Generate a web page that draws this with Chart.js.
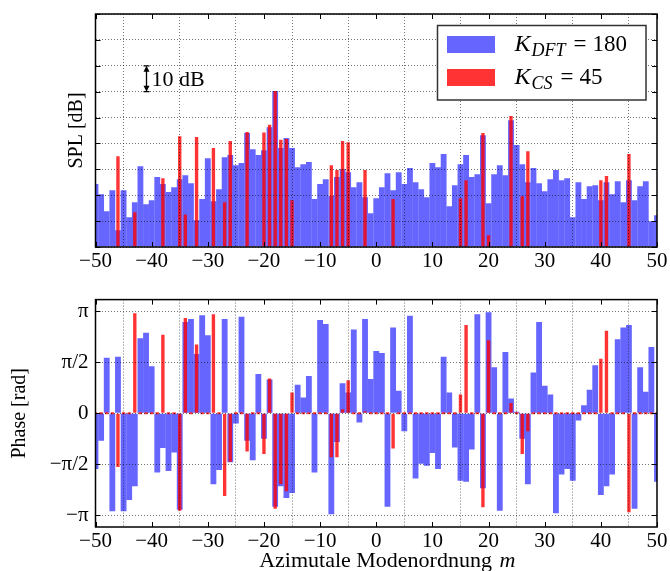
<!DOCTYPE html>
<html><head><meta charset="utf-8">
<script src="https://cdn.jsdelivr.net/npm/chart.js@4/dist/chart.umd.min.js"></script>
<style>
html,body{margin:0;padding:0;background:#fff;}
#wrap{position:relative;width:670px;height:571px;overflow:hidden;}
#c1{position:absolute;left:0;top:0;}
#c2{position:absolute;left:0;top:280px;}
</style></head><body>
<div id="wrap">
<canvas id="c1" width="670" height="290"></canvas>
<canvas id="c2" width="670" height="291"></canvas>
</div>
<script>
// ---------- DATA ----------
// azimuthal mode orders m = -50 ... 50
const modes = Array.from({length: 101}, (_, i) => i - 50);
const xTicks = [-50, -40, -30, -20, -10, 0, 10, 20, 30, 40, 50];

// SPL (dB, relative) of the DFT estimate, one per mode m=-50..50
const splDFT = [
  24.3, 20.4, 13.8, 21.9, 6.5, 21.9, 11.5, 17.3, 31.2, 16.5,
  18.1, 27.0, 24.3, 21.2, 23.1, 26.2, 27.7, 24.6, 10.3, 18.5,
  34.3, 17.7, 22.3, 34.7, 35.5, 31.6, 32.4, 44.0, 37.8, 35.5,
  37.4, 46.3, 60.3, 38.2, 42.1, 38.2, 30.8, 32.0, 32.8, 18.5,
  24.3, 26.2, 19.7, 27.0, 30.1, 28.9, 23.1, 25.0, 19.2, 13.0,
  18.8,
  23.1, 28.5, 21.9, 28.9, 24.3, 30.5, 25.0, 22.3, 19.2, 32.4,
  30.8, 35.9, 15.7, 23.9, 32.0, 35.5, 27.0, 28.1, 43.2, 16.9,
  28.1, 31.6, 27.7, 49.0, 39.4, 32.0, 25.0, 30.5, 24.6, 21.5,
  26.2, 29.7, 25.8, 26.6, 11.5, 25.0, 18.5, 23.5, 23.9, 18.1,
  25.0, 20.4, 25.4, 17.3, 25.8, 18.1, 23.5, 25.4, 9.9, 12.3
];
// phase of the DFT estimate, in units of pi/2, m=-50..50
const phaseDFTHalfPi = [
  -1.09, -0.54, 1.09, -1.92, 1.11, -1.92, -1.70, -1.43, 1.47, 1.58,
  0.92, -1.16, -0.68, -1.13, -0.77, -1.89, 1.79, 1.85, 1.16, 1.92,
  1.53, -1.39, -1.11, 1.85, -0.96, -0.20, 1.89, -0.54, -0.92, 0.77,
  -0.50, 0.66, -1.83, -1.43, -1.66, -1.56, 0.56, 0.31, 0.73, -1.16,
  1.83, 1.75, -1.98, -0.56, 0.59, 0.41, 1.64, -0.18, 1.85, 0.67,
  1.22,
  1.18, -1.83, 1.68, 0.44, -0.35, 1.91, -1.28, -0.99, -1.03, -0.78,
  -1.09, 1.11, 0.41, -0.67, -1.32, -1.34, -0.71, 1.94, -1.47, 1.98,
  0.90, -1.91, 1.20, 0.29, 0.03, -0.50, -1.39, 0.80, 1.79, 0.54,
  0.37, -1.96, -1.20, -1.09, -1.32, -0.14, 0.16, 0.46, 0.94, -1.60,
  -1.43, -1.20, 1.45, 1.68, 1.73, -1.87, 0.90, 0.42, 1.30, -1.34
];

// compressive-sensing estimate: modes found, their SPL and phase (units of pi/2)
const csModes = [-46, -43, -38, -35, -34, -32, -29, -27, -26, -23, -20, -19, -18, -17, -16, -15,
                 -8, -7, -6, -5, -2, 3, 15, 16, 19, 20, 24, 26, 27, 40, 41, 45];
const splCS = [35.1, 13.4, 26.6, 42.8, 12.6, 42.5, 38.2, 17.3, 40.9, 44.4, 44.2, 47.2, 60.3, 41.4, 41.7, 18.1,
               31.6, 29.7, 40.9, 40.5, 29.7, 18.5, 18.8, 25.8, 44.0, 4.5, 50.6, 19.6, 37.0, 25.8, 27.4, 35.9];
const phaseCSHalfPi = [-1.05, 1.96, 1.54, -1.91, 1.87, 1.35, 1.94, -1.62, -0.95, -0.75, -0.80, 0.68, -1.87, -1.39, -1.53, 0.41,
                       -0.86, -0.86, 0.08, 0.65, 0.04, -0.69, 0.37, 1.73, -1.84, 1.43, 0.20, -0.80, -0.35, 1.07, 1.62, -1.94];

const seriesLabels = ['K_DFT = 180', 'K_CS = 45'];
const phaseTickValues = [-Math.PI, -Math.PI / 2, 0, Math.PI / 2, Math.PI];
const phaseTickLabels = ['\u2212\u03c0', '\u2212\u03c0/2', '0', '\u03c0/2', '\u03c0'];
const splAxisLabel = 'SPL [dB]';
const phaseAxisLabel = 'Phase [rad]';
const xAxisLabel = ['Azimutale Modenordnung ', 'm'];
const scaleNote = {m: -41, from: 60, to: 70, text: '10 dB'};

// ---------- STYLE ----------
const BLUE = '#6666ff';
const RED = 'rgba(255,0,0,0.8)';
const GRID = 'rgba(0,0,0,0.55)';
const FONT = '"Liberation Serif", "DejaVu Serif", serif';

const toRad = v => v * Math.PI / 2;
const csValue = (arr, m) => { const i = csModes.indexOf(m); return i >= 0 ? arr[i] : 0; };
const fmt = v => (v < 0 ? '\u2212' + Math.abs(v) : String(v));

const framePlugin = {
  id: 'frame',
  afterDraw(chart) {
    const {ctx, chartArea: a, scales} = chart;
    ctx.save();
    ctx.strokeStyle = '#000';
    ctx.lineWidth = 1;
    ctx.beginPath();
    scales.x.ticks.forEach(t => {
      const p = Math.round(scales.x.getPixelForValue(t.value)) + 0.5;
      ctx.moveTo(p, a.bottom); ctx.lineTo(p, a.bottom - 5);
      ctx.moveTo(p, a.top); ctx.lineTo(p, a.top + 5);
    });
    scales.y.ticks.forEach(t => {
      const p = Math.round(scales.y.getPixelForValue(t.value)) + 0.5;
      ctx.moveTo(a.left, p); ctx.lineTo(a.left + 5, p);
      ctx.moveTo(a.right, p); ctx.lineTo(a.right - 5, p);
    });
    ctx.stroke();
    ctx.lineWidth = 1.5;
    ctx.strokeRect(a.left, a.top, a.right - a.left, a.bottom - a.top);
    ctx.restore();
  }
};

function drawMath(ctx, x, y, label) {
  const [lhs, rhs] = label.split(' = ');
  const [base, sub] = lhs.split('_');
  ctx.textBaseline = 'alphabetic';
  ctx.textAlign = 'left';
  ctx.font = 'italic 24px ' + FONT;
  ctx.fillText(base, x, y); x += ctx.measureText(base).width + 1;
  ctx.font = 'italic 18px ' + FONT;
  ctx.fillText(sub, x, y + 5); x += ctx.measureText(sub).width + 8;
  ctx.font = '23px ' + FONT;
  ctx.fillText('=', x, y); x += ctx.measureText('=').width + 6;
  ctx.fillText(rhs, x, y);
}

const legendPlugin = {
  id: 'mathLegend',
  afterDraw(chart) {
    const {ctx, chartArea: a} = chart;
    const bx = a.right - 219.5, by = a.top + 11.5, bw = 208.5, bh = 74.5;
    ctx.save();
    ctx.fillStyle = '#fff';
    ctx.fillRect(bx, by, bw, bh);
    ctx.strokeStyle = '#333';
    ctx.lineWidth = 1.5;
    ctx.strokeRect(bx, by, bw, bh);
    const colors = [BLUE, RED];
    seriesLabels.forEach((lab, i) => {
      const sy = by + 10.5 + i * 33;
      ctx.fillStyle = colors[i];
      ctx.fillRect(bx + 9.5, sy, 48, 17);
      ctx.fillStyle = '#000';
      drawMath(ctx, bx + 77, sy + 15, lab);
    });
    ctx.restore();
  }
};

const notePlugin = {
  id: 'scaleNote',
  afterDraw(chart) {
    const {ctx, scales: {x, y}} = chart;
    const px = Math.round(x.getPixelForValue(scaleNote.m)) + 0.5;
    const y1 = y.getPixelForValue(scaleNote.to), y2 = y.getPixelForValue(scaleNote.from);
    ctx.save();
    ctx.strokeStyle = '#000'; ctx.fillStyle = '#000'; ctx.lineWidth = 1.3;
    ctx.beginPath();
    ctx.moveTo(px, y1 + 3); ctx.lineTo(px, y2 - 3);
    ctx.moveTo(px - 3, y1); ctx.lineTo(px + 3, y1);
    ctx.moveTo(px - 3, y2); ctx.lineTo(px + 3, y2);
    ctx.stroke();
    ctx.beginPath();
    ctx.moveTo(px, y1); ctx.lineTo(px - 3, y1 + 6); ctx.lineTo(px + 3, y1 + 6); ctx.closePath();
    ctx.moveTo(px, y2); ctx.lineTo(px - 3, y2 - 6); ctx.lineTo(px + 3, y2 - 6); ctx.closePath();
    ctx.fill();
    ctx.font = '22px ' + FONT;
    ctx.textBaseline = 'middle'; ctx.textAlign = 'left';
    ctx.fillText(scaleNote.text, px + 5, (y1 + y2) / 2 + 1);
    ctx.restore();
  }
};

const xTitlePlugin = {
  id: 'xTitle',
  afterDraw(chart) {
    const {ctx, chartArea: a} = chart;
    ctx.save();
    ctx.fillStyle = '#000';
    ctx.textBaseline = 'alphabetic'; ctx.textAlign = 'left';
    ctx.font = '22px ' + FONT;
    const w1 = ctx.measureText(xAxisLabel[0]).width;
    ctx.font = 'italic 22px ' + FONT;
    const w2 = ctx.measureText(xAxisLabel[1]).width;
    const x0 = (a.left + a.right) / 2 + 10 - (w1 + w2) / 2;
    ctx.font = '22px ' + FONT;
    ctx.fillText(xAxisLabel[0], x0, a.bottom + 40);
    ctx.font = 'italic 22px ' + FONT;
    ctx.fillText(xAxisLabel[1], x0 + w1 + 2, a.bottom + 40);
    ctx.restore();
  }
};

function xScale(h) {
  return {
    type: 'linear', min: -50, max: 50, offset: false,
    afterBuildTicks: s => { s.ticks = xTicks.map(v => ({value: v})); },
    ticks: {font: {family: FONT, size: 21}, color: '#000', padding: 2, maxRotation: 0, autoSkip: false,
            callback: v => fmt(v)},
    grid: {color: GRID, lineWidth: 1, z: 1, drawTicks: false},
    border: {display: false, dash: [1, 2]},
    afterFit: s => { s.height = h; }
  };
}

const common = (data) => ({
  type: 'bar',
  data,
  options: {
    responsive: false, animation: false, events: [],
    plugins: {legend: {display: false}, tooltip: {enabled: false}},
  }
});

// ---------- TOP: SPL ----------
const cfg1 = common({datasets: [
  {label: seriesLabels[0], data: modes.map((m, i) => ({x: m, y: splDFT[i]})), backgroundColor: BLUE,
   grouped: false, categoryPercentage: 1, barPercentage: 1.04, borderWidth: 0, clip: 0, order: 2},
  {label: seriesLabels[1], data: modes.map(m => ({x: m, y: csValue(splCS, m)})), backgroundColor: RED,
   grouped: false, categoryPercentage: 1, barPercentage: 0.6, borderWidth: 0, clip: 0, order: 1}
]});
cfg1.options.layout = {padding: {top: 14, right: 13, left: 0, bottom: 0}};
cfg1.options.scales = {
  x: xScale(43),
  y: {min: 0, max: 90, ticks: {stepSize: 10, display: false},
      grid: {color: GRID, lineWidth: 1, z: 1, drawTicks: false},
      border: {display: false, dash: [1, 2]},
      title: {display: true, text: splAxisLabel, color: '#000', font: {family: FONT, size: 20}, padding: {top: 65, bottom: 0}},
      afterFit: s => { s.width = 95.5; }}
};
cfg1.plugins = [framePlugin, notePlugin, legendPlugin];
new Chart(document.getElementById('c1'), cfg1);

// ---------- BOTTOM: Phase ----------
const cfg2 = common({datasets: [
  {label: seriesLabels[0], data: modes.map((m, i) => ({x: m, y: toRad(phaseDFTHalfPi[i])})), backgroundColor: BLUE,
   grouped: false, categoryPercentage: 1, barPercentage: 1.04, borderWidth: 0, clip: 0, order: 2},
  {label: seriesLabels[1], data: modes.map(m => ({x: m, y: toRad(csValue(phaseCSHalfPi, m))})), backgroundColor: RED,
   grouped: false, categoryPercentage: 1, barPercentage: 0.6, borderWidth: 0, clip: 0, order: 1, minBarLength: 2}
]});
cfg2.options.layout = {padding: {top: 13, right: 13, left: 0, bottom: 0}};
cfg2.options.scales = {
  x: xScale(44),
  y: {min: -3.5, max: 3.5,
      afterBuildTicks: s => { s.ticks = phaseTickValues.map(v => ({value: v})); },
      ticks: {font: {family: FONT, size: 21}, color: '#000', padding: 7,
              callback: (v, i) => phaseTickLabels[i]},
      grid: {color: GRID, lineWidth: 1, z: 1, drawTicks: false},
      border: {display: false, dash: [1, 2]},
      title: {display: true, text: phaseAxisLabel, color: '#000', font: {family: FONT, size: 20}, padding: {top: 8, bottom: 0}},
      afterFit: s => { s.width = 95.5; }}
};
cfg2.plugins = [framePlugin, xTitlePlugin];
new Chart(document.getElementById('c2'), cfg2);
</script>
</body></html>
